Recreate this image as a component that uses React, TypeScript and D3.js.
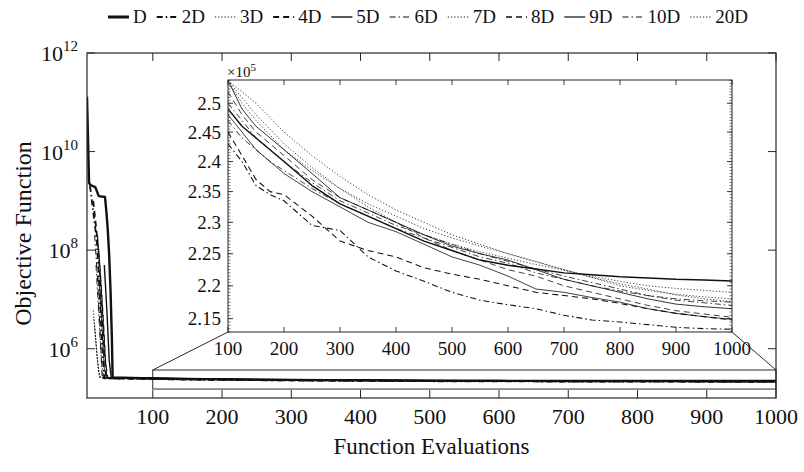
import React from 'react';
import * as d3 from 'd3';

// ---------- data ----------
const seriesNames = ['D', '2D', '3D', '4D', '5D', '6D', '7D', '8D', '9D', '10D', '20D'];

// function evaluations grid for the later (zoomed) part
const evalGrid = [100, 125, 150, 175, 200, 250, 300, 350, 400, 450, 500, 550, 600, 650, 700, 750, 800, 850, 900, 950, 1000];

// later values (x 1e5)
const lateD   = [2.49, 2.46, 2.44, 2.42, 2.40, 2.36, 2.33, 2.31, 2.29, 2.27, 2.255, 2.24, 2.232, 2.226, 2.22, 2.217, 2.214, 2.212, 2.21, 2.209, 2.2075];
const late2D  = [2.43, 2.40, 2.36, 2.345, 2.335, 2.295, 2.287, 2.245, 2.223, 2.207, 2.19, 2.178, 2.171, 2.165, 2.155, 2.148, 2.145, 2.141, 2.137, 2.135, 2.134];
const late3D  = [2.54, 2.51, 2.48, 2.455, 2.43, 2.39, 2.355, 2.325, 2.30, 2.28, 2.265, 2.253, 2.243, 2.233, 2.224, 2.215, 2.207, 2.20, 2.196, 2.193, 2.19];
const late4D  = [2.45, 2.41, 2.37, 2.35, 2.345, 2.31, 2.27, 2.255, 2.245, 2.228, 2.218, 2.21, 2.20, 2.19, 2.185, 2.18, 2.173, 2.165, 2.158, 2.153, 2.148];
const late5D  = [2.54, 2.49, 2.46, 2.44, 2.42, 2.38, 2.34, 2.32, 2.30, 2.28, 2.262, 2.25, 2.24, 2.225, 2.21, 2.20, 2.19, 2.18, 2.172, 2.168, 2.165];
const late6D  = [2.47, 2.44, 2.42, 2.40, 2.385, 2.355, 2.33, 2.31, 2.29, 2.275, 2.26, 2.245, 2.235, 2.22, 2.21, 2.20, 2.192, 2.185, 2.18, 2.177, 2.175];
const late7D  = [2.54, 2.50, 2.47, 2.445, 2.42, 2.385, 2.355, 2.33, 2.31, 2.29, 2.275, 2.262, 2.25, 2.238, 2.225, 2.213, 2.20, 2.193, 2.187, 2.183, 2.18];
const late8D  = [2.52, 2.48, 2.45, 2.43, 2.41, 2.37, 2.34, 2.32, 2.30, 2.275, 2.255, 2.24, 2.225, 2.215, 2.20, 2.19, 2.18, 2.17, 2.162, 2.157, 2.152];
const late9D  = [2.48, 2.45, 2.42, 2.40, 2.38, 2.35, 2.325, 2.30, 2.285, 2.265, 2.245, 2.232, 2.215, 2.195, 2.19, 2.182, 2.175, 2.165, 2.158, 2.153, 2.149];
const late10D = [2.50, 2.47, 2.44, 2.42, 2.40, 2.365, 2.335, 2.315, 2.295, 2.28, 2.265, 2.25, 2.238, 2.226, 2.215, 2.205, 2.195, 2.185, 2.178, 2.174, 2.17];
const late20D = [2.54, 2.52, 2.50, 2.475, 2.45, 2.41, 2.375, 2.345, 2.32, 2.30, 2.28, 2.265, 2.25, 2.237, 2.225, 2.213, 2.203, 2.195, 2.186, 2.18, 2.176];

// early part [evaluations, objective]
const earlyD   = [[5, 1.3e11], [8, 2.3e9], [10, 2.1e9], [17, 1.9e9], [22, 1.25e9], [31, 1.2e9], [33, 6e8], [35, 2.6e8], [37, 8e7], [39, 1.5e7], [41, 1.5e6], [42, 2.6e5]];
const early2D  = [[9, 2e9], [10, 1.7e9], [14, 6e8], [19, 1.6e8], [22, 3e7], [25, 4e6], [28, 6e5], [30, 2.5e5]];
const early3D  = [[14, 6e6], [17, 2e6], [20, 6e5], [23, 2.6e5]];
const early4D  = [[14, 1e9], [18, 3e8], [22, 8e7], [26, 1e7], [30, 1e6], [33, 2.5e5]];
const early5D  = [[30, 5e7], [34, 5e6], [37, 6e5], [40, 2.58e5]];
const early6D  = [[16, 2e8], [20, 3e7], [24, 2e6], [27, 2.5e5]];
const early7D  = [[16, 3e6], [19, 9e5], [22, 3.5e5], [25, 2.56e5]];
const early8D  = [[20, 2e8], [24, 4e7], [28, 5e6], [32, 5e5], [35, 2.55e5]];
const early9D  = [[22, 3e7], [26, 4e6], [30, 4e5], [33, 2.52e5]];
const early10D = [[18, 5e7], [22, 5e6], [26, 5e5], [29, 2.55e5]];
const early20D = [[15, 4e6], [18, 1.2e6], [21, 4e5], [24, 2.58e5]];

const mainXTicks = [100, 200, 300, 400, 500, 600, 700, 800, 900, 1000];
const mainYExps = [6, 8, 10, 12];
const insetXTicks = [100, 200, 300, 400, 500, 600, 700, 800, 900, 1000];
const insetYTicks = [2.15, 2.2, 2.25, 2.3, 2.35, 2.4, 2.45, 2.5];

// ---------- styles ----------
const dashStyles = ['solid', 'dashdot', 'dotted', 'dashed', 'solid', 'dashdot', 'dotted', 'dashed', 'solid', 'dashdot', 'dotted'];
const lineWidths = [2.4, 1.8, 1.0, 1.8, 1.4, 1.0, 0.9, 1.3, 0.9, 0.9, 0.9];
const dashArray: Record<string, string | undefined> = {
  solid: undefined,
  dashed: '6,4',
  dashdot: '6,3,1.5,3',
  dotted: '1.2,2',
};

const lateVals = [lateD, late2D, late3D, late4D, late5D, late6D, late7D, late8D, late9D, late10D, late20D];
const earlyVals = [earlyD, early2D, early3D, early4D, early5D, early6D, early7D, early8D, early9D, early10D, early20D];

const series = seriesNames.map((name, i) => ({
  name,
  early: earlyVals[i] as [number, number][],
  late: evalGrid.map((x, j) => [x, lateVals[i][j] * 1e5] as [number, number]),
  dash: dashArray[dashStyles[i]],
  width: lineWidths[i],
}));

const FONT = '"Liberation Serif", "Times New Roman", serif';
const INK = '#111';
const AX = '#262626';

export default function App() {
  const W = 804, H = 472;
  // main axes
  const mL = 87, mR = 776, mT = 53, mB = 398;
  const x = d3.scaleLinear().domain([5, 1000]).range([mL, mR]);
  const y = d3.scaleLog().domain([1e5, 1e12]).range([mB, mT]);
  // inset axes
  const iL = 228, iR = 732, iT = 80, iB = 332;
  const xi = d3.scaleLinear().domain([100, 1000]).range([iL, iR]);
  const yi = d3.scaleLog().domain([2.13e5, 2.541e5]).range([iB, iT]);

  const lineMain = d3.line<[number, number]>().x(d => x(d[0])).y(d => y(d[1]));
  const lineInset = d3.line<[number, number]>().x(d => xi(d[0])).y(d => yi(d[1]));

  // zoom box in main data coords
  const boxY0 = y(3.7e5), boxY1 = y(1.52e5);
  const boxX0 = x(100), boxX1 = x(1000);

  const minorInset = d3.range(213, 254.5, 0.5).map(v => v / 100);

  // legend layout
  const legendFs = 19;
  const charW = (s: string) => s.split('').reduce((a, c) => a + (c === 'D' ? 0.722 : 0.5), 0) * legendFs;
  let lx = 108;
  const legendItems = series.map(s => {
    const item = { s, x: lx };
    lx += 25 + charW(s.name) + 10;
    return item;
  });

  const mainTickLen = 8;
  const insetTick = 5;
  const insetMinor = 2.5;

  return (
    <svg width={W} height={H} style={{ position: 'absolute', left: 0, top: 0, background: '#fff' }} fontFamily={FONT}>
      <defs>
        <clipPath id="mainClip"><rect x={mL} y={mT} width={mR - mL} height={mB - mT} /></clipPath>
        <clipPath id="insetClip"><rect x={iL} y={iT} width={iR - iL} height={iB - iT} /></clipPath>
      </defs>
      <rect x={0} y={0} width={W} height={H} fill="#fff" />

      {/* legend */}
      <g>
        {legendItems.map(({ s, x: px }) => (
          <g key={s.name}>
            <line x1={px} x2={px + 21} y1={17} y2={17} stroke={INK} strokeWidth={s.name === 'D' ? 3 : Math.max(1.2, s.width)} strokeDasharray={s.dash} />
            <text x={px + 25} y={23} fontSize={legendFs} fill={INK}>{s.name}</text>
          </g>
        ))}
      </g>

      {/* main plot lines */}
      <g clipPath="url(#mainClip)">
        {series.map(s => (
          <path key={s.name} d={lineMain([...s.early, ...s.late]) || ''} fill="none" stroke={INK} strokeWidth={s.width} strokeDasharray={s.dash} strokeLinejoin="round" />
        ))}
      </g>

      {/* main axes box */}
      <rect x={mL} y={mT} width={mR - mL} height={mB - mT} fill="none" stroke={AX} strokeWidth={1.2} />
      {mainXTicks.map(t => (
        <g key={'mx' + t}>
          <line x1={x(t)} x2={x(t)} y1={mB} y2={mB - mainTickLen} stroke={AX} strokeWidth={1} />
          <line x1={x(t)} x2={x(t)} y1={mT} y2={mT + mainTickLen} stroke={AX} strokeWidth={1} />
          <text x={x(t)} y={424} textAnchor="middle" fontSize={22} fill={INK}>{t}</text>
        </g>
      ))}
      {mainYExps.map(e => {
        const py = y(Math.pow(10, e));
        return (
          <g key={'my' + e}>
            <line x1={mL} x2={mL + mainTickLen} y1={py} y2={py} stroke={AX} strokeWidth={1} />
            <line x1={mR} x2={mR - mainTickLen} y1={py} y2={py} stroke={AX} strokeWidth={1} />
            <text x={78} y={py + 8} textAnchor="end" fontSize={22} fill={INK}>
              10<tspan dy={-10} fontSize={15}>{e}</tspan>
            </text>
          </g>
        );
      })}
      <text x={(mL + mR) / 2} y={454} textAnchor="middle" fontSize={23} fill={INK}>Function Evaluations</text>
      <text transform={`translate(31,${(mT + mB) / 2 + 8}) rotate(-90)`} textAnchor="middle" fontSize={24} fill={INK}>Objective Function</text>

      {/* zoom box and connectors */}
      <rect x={boxX0} y={boxY0} width={boxX1 - boxX0} height={boxY1 - boxY0} fill="none" stroke={INK} strokeWidth={0.9} />
      <line x1={boxX0} y1={boxY0} x2={iL} y2={iB} stroke={INK} strokeWidth={0.9} />
      <line x1={boxX1} y1={boxY0} x2={iR} y2={iB} stroke={INK} strokeWidth={0.9} />

      {/* inset */}
      <rect x={iL} y={iT} width={iR - iL} height={iB - iT} fill="#fff" />
      <g clipPath="url(#insetClip)">
        {series.map(s => (
          <path key={'i' + s.name} d={lineInset(s.late) || ''} fill="none" stroke={INK} strokeWidth={Math.max(0.8, s.width * 0.6)} strokeDasharray={s.dash} strokeLinejoin="round" />
        ))}
      </g>
      <rect x={iL} y={iT} width={iR - iL} height={iB - iT} fill="none" stroke={AX} strokeWidth={1} />
      {minorInset.map(v => (
        <g key={'im' + v}>
          <line x1={iL} x2={iL + insetMinor} y1={yi(v * 1e5)} y2={yi(v * 1e5)} stroke={AX} strokeWidth={0.6} />
          <line x1={iR} x2={iR - insetMinor} y1={yi(v * 1e5)} y2={yi(v * 1e5)} stroke={AX} strokeWidth={0.6} />
        </g>
      ))}
      {insetYTicks.map(v => (
        <g key={'iy' + v}>
          <line x1={iL} x2={iL + insetTick} y1={yi(v * 1e5)} y2={yi(v * 1e5)} stroke={AX} strokeWidth={0.9} />
          <line x1={iR} x2={iR - insetTick} y1={yi(v * 1e5)} y2={yi(v * 1e5)} stroke={AX} strokeWidth={0.9} />
          <text x={221} y={yi(v * 1e5) + 6.5} textAnchor="end" fontSize={19} fill={INK}>{v}</text>
        </g>
      ))}
      {insetXTicks.map(t => (
        <g key={'ix' + t}>
          <line x1={xi(t)} x2={xi(t)} y1={iB} y2={iB - insetTick} stroke={AX} strokeWidth={0.9} />
          <line x1={xi(t)} x2={xi(t)} y1={iT} y2={iT + insetTick} stroke={AX} strokeWidth={0.9} />
          <text x={xi(t)} y={355} textAnchor="middle" fontSize={19} fill={INK}>{t}</text>
        </g>
      ))}
      <text x={iL - 1} y={77} fontSize={15} fill={INK}>
        ×10<tspan dy={-6} fontSize={11}>5</tspan>
      </text>
    </svg>
  );
}
